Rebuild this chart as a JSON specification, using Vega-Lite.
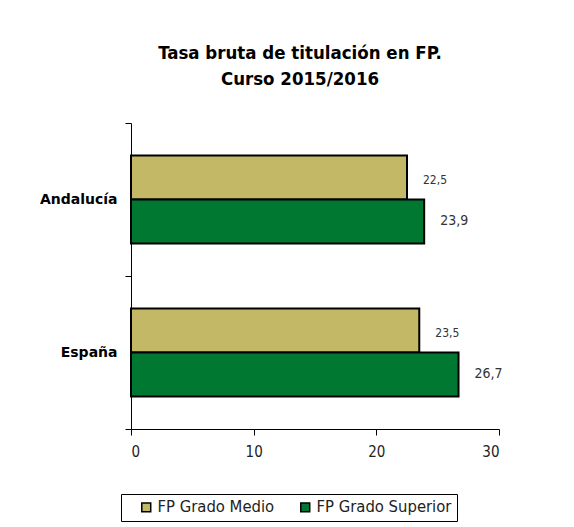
{
  "$schema": "https://vega.github.io/schema/vega-lite/v6.json",
  "width": 368,
  "height": 306,
  "autosize": "none",
  "padding": {"left": 131, "top": 123, "right": 75, "bottom": 98},
  "background": "white",
  "config": {
    "locale": {"number": {"decimal": ",", "thousands": ".", "grouping": [3], "currency": ["", " €"]}},
    "view": {"stroke": null}
  },
  "title": {
    "text": ["Tasa bruta de titulación en FP.", "Curso 2015/2016"],
    "font": "DejaVu Sans Condensed, Roboto, sans-serif",
    "fontSize": 18.5,
    "fontWeight": "bold",
    "color": "black",
    "anchor": "middle",
    "dx": -15,
    "offset": 28,
    "lineHeight": 26
  },
  "data": {
    "values": [
      {"region": "Andalucía", "tipo": "FP Grado Medio", "valor": 22.5},
      {"region": "Andalucía", "tipo": "FP Grado Superior", "valor": 23.9},
      {"region": "España", "tipo": "FP Grado Medio", "valor": 23.5},
      {"region": "España", "tipo": "FP Grado Superior", "valor": 26.7}
    ]
  },
  "encoding": {
    "y": {
      "field": "region",
      "type": "nominal",
      "sort": ["Andalucía", "España"],
      "title": null,
      "scale": {"paddingInner": 0, "paddingOuter": 0},
      "axis": {
        "domainColor": "black",
        "tickColor": "black",
        "tickBand": "extent",
        "tickSize": 6,
        "labelFont": "DejaVu Sans",
        "labelFontWeight": "bold",
        "labelFontSize": 14,
        "labelColor": "black",
        "labelPadding": 8
      }
    },
    "yOffset": {
      "field": "tipo",
      "type": "nominal",
      "sort": ["FP Grado Medio", "FP Grado Superior"],
      "scale": {"domain": ["FP Grado Medio", "FP Grado Superior"], "paddingInner": 0, "paddingOuter": 0.74}
    },
    "x": {
      "field": "valor",
      "type": "quantitative",
      "scale": {"domain": [0, 30]},
      "axis": {
        "title": null,
        "grid": false,
        "values": [0, 10, 20, 30],
        "format": "d",
        "domainColor": "black",
        "tickColor": "black",
        "tickSize": 6,
        "labelFont": "DejaVu Sans Condensed, Roboto, sans-serif",
        "labelFontSize": 15,
        "labelColor": "#222222",
        "labelPadding": 9
      }
    }
  },
  "layer": [
    {
      "mark": {"type": "bar", "stroke": "black", "strokeWidth": 2},
      "encoding": {
        "color": {
          "field": "tipo",
          "type": "nominal",
          "sort": ["FP Grado Medio", "FP Grado Superior"],
          "scale": {"domain": ["FP Grado Medio", "FP Grado Superior"], "range": ["#C2B866", "#007832"]},
          "legend": {
            "title": null,
            "orient": "none",
            "legendX": -10,
            "legendY": 371,
            "direction": "horizontal",
            "strokeColor": "black",
            "fillColor": "white",
            "padding": 5,
            "symbolType": "square",
            "symbolSize": 80,
            "symbolOffset": 12,
            "symbolStrokeColor": "black",
            "symbolStrokeWidth": 1.5,
            "labelFont": "DejaVu Sans Condensed, Roboto, sans-serif",
            "labelFontSize": 16.5,
            "labelOffset": 3,
            "labelColor": "#222222",
            "columnPadding": 10
          }
        }
      }
    },
    {
      "transform": [{"filter": "datum.tipo === 'FP Grado Medio'"}],
      "mark": {"type": "text", "align": "left", "baseline": "middle", "dx": 16, "dy": 2, "font": "DejaVu Sans Condensed, Roboto, sans-serif", "fontSize": 12, "color": "#333333"},
      "encoding": {
        "text": {"field": "valor", "type": "quantitative", "format": ".1f"}
      }
    },
    {
      "transform": [{"filter": "datum.tipo === 'FP Grado Superior'"}],
      "mark": {"type": "text", "align": "left", "baseline": "middle", "dx": 16, "font": "DejaVu Sans Condensed, Roboto, sans-serif", "fontSize": 14, "color": "#333333"},
      "encoding": {
        "text": {"field": "valor", "type": "quantitative", "format": ".1f"}
      }
    }
  ]
}
